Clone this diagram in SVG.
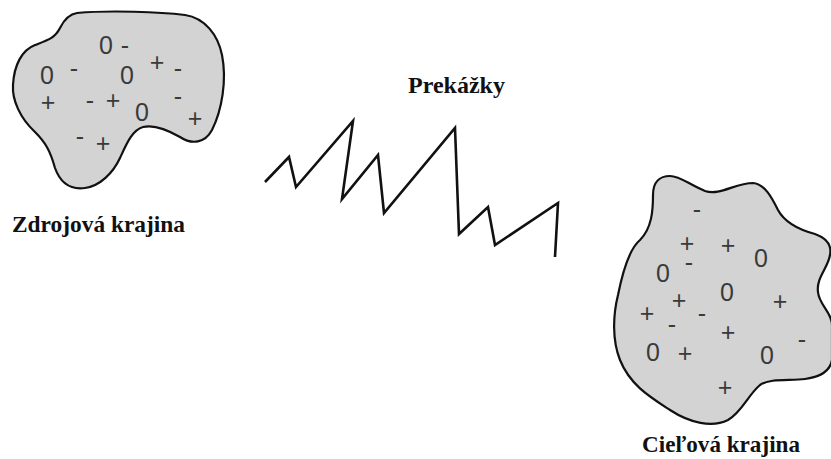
<svg xmlns="http://www.w3.org/2000/svg" width="831" height="459" viewBox="0 0 831 459">
<style>
.blob{fill:#d3d3d3;stroke:#111;stroke-width:2.2}
.c{font-family:"Liberation Sans","DejaVu Sans",sans-serif;font-size:25px;fill:#3a3a3a;text-anchor:middle;dominant-baseline:central}
.t{font-family:"Liberation Serif","Times New Roman",serif;font-weight:bold;font-size:23px;fill:#111}
.zz{fill:none;stroke:#111;stroke-width:2.6;stroke-linejoin:miter;stroke-miterlimit:10}
</style>
<rect width="831" height="459" fill="#fff"/>
<g id="source">
<path class="blob" d="M 77,13 C 110,10 160,12 185,15 C 205,18 218,35 222,55 C 227,80 222,110 212,130 C 205,143 192,145 180,137 C 168,130 155,124 143,127 C 132,130 126,145 120,158 C 113,173 100,186 85,188 C 70,190 60,182 55,168 C 50,150 45,142 35,132 C 20,118 12,100 13,85 C 14,65 22,50 35,45 C 48,40 55,38 60,28 C 65,18 70,14 77,13 Z"/>
<text class="c" x="106" y="45">0</text>
<text class="c" x="125" y="45">-</text>
<text class="c" x="47" y="75">0</text>
<text class="c" x="74" y="68">-</text>
<text class="c" x="127" y="75">0</text>
<text class="c" x="157" y="62">+</text>
<text class="c" x="178" y="68">-</text>
<text class="c" x="48" y="102">+</text>
<text class="c" x="90" y="100">-</text>
<text class="c" x="113" y="100">+</text>
<text class="c" x="142" y="112">0</text>
<text class="c" x="178" y="96">-</text>
<text class="c" x="195" y="118">+</text>
<text class="c" x="80" y="136">-</text>
<text class="c" x="103" y="143">+</text>
<text class="t" x="12" y="232" textLength="173" lengthAdjust="spacingAndGlyphs">Zdrojová krajina</text>
</g>
<g id="obstacles">
<text class="t" x="408" y="93" textLength="97" lengthAdjust="spacingAndGlyphs">Prekážky</text>
<polyline class="zz" points="265,182 289,157 296,187 353,121 342,199 378,155 384,213 455,128 459,234 488,207 495,245 558,203 555,257"/>
</g>
<g id="target">
<path class="blob" d="M 670,176 C 680,176 690,185 705,191 C 720,196 735,183 753,183 C 765,184 772,198 778,210 C 785,223 800,230 815,234 C 826,238 832,245 830,255 C 828,268 816,278 818,292 C 819,305 832,312 832,325 L 832,360 C 830,372 820,377 805,379 C 790,381 770,378 760,385 C 748,395 742,412 728,420 C 712,428 690,423 670,410 C 650,397 630,385 620,360 C 612,340 613,315 618,295 C 622,275 628,250 640,240 C 652,228 653,210 653,195 C 653,182 660,176 670,176 Z"/>
<text class="c" x="697" y="209">-</text>
<text class="c" x="687" y="243">+</text>
<text class="c" x="728" y="245">+</text>
<text class="c" x="761" y="258">0</text>
<text class="c" x="663" y="273">0</text>
<text class="c" x="689" y="262">-</text>
<text class="c" x="727" y="292">0</text>
<text class="c" x="679" y="300">+</text>
<text class="c" x="780" y="301">+</text>
<text class="c" x="647" y="313">+</text>
<text class="c" x="702" y="313">-</text>
<text class="c" x="672" y="324">-</text>
<text class="c" x="728" y="332">+</text>
<text class="c" x="653" y="352">0</text>
<text class="c" x="685" y="353">+</text>
<text class="c" x="767" y="355">0</text>
<text class="c" x="802" y="339">-</text>
<text class="c" x="725" y="387">+</text>
<text class="t" x="642" y="452" textLength="158" lengthAdjust="spacingAndGlyphs">Cieľová krajina</text>
</g>
</svg>
